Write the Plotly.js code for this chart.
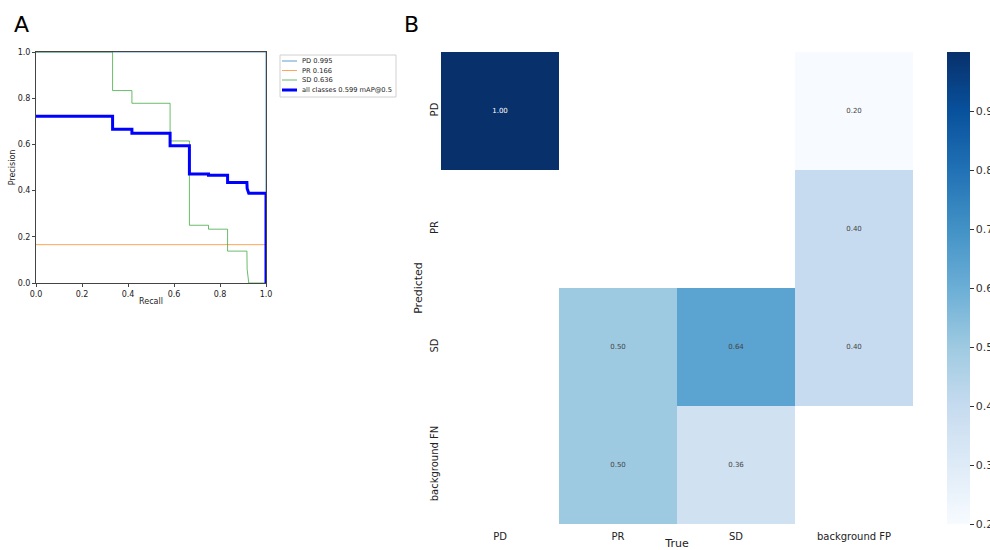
<!DOCTYPE html>
<html>
<head>
<meta charset="utf-8">
<script src="https://cdn.plot.ly/plotly-3.0.1.min.js"></script>
<style>html,body{margin:0;padding:0;background:#fff;}#chart{width:990px;height:550px;}</style>
</head>
<body>
<div id="chart"></div>
<script>
// ---- Panel A: precision-recall curves ----
const pdRecall = [0, 1, 1];
const pdPrecision = [1, 1, 0];
const prRecall = [0, 1];
const prPrecision = [0.166, 0.166];
const sdRecall = [0, 0.333, 0.333, 0.417, 0.417, 0.583, 0.583, 0.667, 0.667, 0.75, 0.75, 0.833, 0.833, 0.917, 0.918, 0.925, 1.0];
const sdPrecision = [1, 1, 0.833, 0.833, 0.778, 0.778, 0.615, 0.615, 0.25, 0.25, 0.233, 0.233, 0.138, 0.138, 0.06, 0, 0];
const allRecall = [0, 0.333, 0.333, 0.417, 0.417, 0.583, 0.583, 0.667, 0.667, 0.75, 0.75, 0.833, 0.833, 0.917, 0.918, 0.925, 1.0, 1.0];
const allPrecision = [0.722, 0.722, 0.666, 0.666, 0.648, 0.648, 0.594, 0.594, 0.472, 0.472, 0.466, 0.466, 0.435, 0.435, 0.409, 0.389, 0.389, 0];
const seriesNames = ['PD 0.995', 'PR 0.166', 'SD 0.636', 'all classes 0.599 mAP@0.5'];

// ---- Panel B: confusion matrix ----
const trueLabels = ['PD', 'PR', 'SD', 'background FP'];
const predLabels = ['PD', 'PR', 'SD', 'background FN'];
const matrix = [
  [1.00, null, null, 0.20],
  [null, null, null, 0.40],
  [null, 0.50, 0.64, 0.40],
  [null, 0.50, 0.36, null]
];
const cbTicks = [0.2, 0.3, 0.4, 0.5, 0.6, 0.7, 0.8, 0.9];

const FONT = 'DejaVu Sans';
const W = 990, H = 550;
const px = v => v / W;
const py = v => 1 - v / H;
const blues = [
  [0.0, '#f7fbff'], [0.125, '#deebf7'], [0.25, '#c6dbef'], [0.375, '#9ecae1'],
  [0.5, '#6baed6'], [0.625, '#4292c6'], [0.75, '#2171b5'], [0.875, '#08519c'], [1.0, '#08306b']
];
const lineStyles = [
  {color: '#1f77b4', width: 1, opacity: 0.7},
  {color: '#ff7f0e', width: 1, opacity: 0.7},
  {color: '#2ca02c', width: 1, opacity: 0.7},
  {color: 'blue', width: 3, opacity: 1}
];

const textArr = matrix.map(r => r.map(v => v === null ? '' : v.toFixed(2)));

const curveX = [pdRecall, prRecall, sdRecall, allRecall];
const curveY = [pdPrecision, prPrecision, sdPrecision, allPrecision];
const traces = curveX.map((xs, i) => ({
  x: xs, y: curveY[i], name: seriesNames[i], mode: 'lines',
  line: {color: lineStyles[i].color, width: lineStyles[i].width}, opacity: lineStyles[i].opacity,
  xaxis: 'x', yaxis: 'y', showlegend: false
}));

traces.push({
  type: 'heatmap', x: trueLabels, y: predLabels, z: matrix, text: textArr,
  texttemplate: '%{text}', textfont: {size: 7, family: FONT},
  colorscale: blues, zmin: 0.2, zmax: 1.0, xaxis: 'x2', yaxis: 'y2', showlegend: false,
  hoverongaps: false,
  colorbar: {
    x: px(947), xanchor: 'left', thickness: 23, thicknessmode: 'pixels',
    len: (524 - 52) / H, lenmode: 'fraction', y: py(524), yanchor: 'bottom',
    outlinewidth: 0, tickvals: cbTicks, ticktext: cbTicks.map(v => v.toFixed(1)),
    ticks: 'outside', ticklen: 4, tickcolor: '#333', xpad: 0, ypad: 0,
    tickfont: {size: 11, family: FONT, color: '#333'}
  }
});

const axisA = {
  showline: true, mirror: true, linecolor: '#444', linewidth: 1, showgrid: false, zeroline: false,
  ticks: 'outside', ticklen: 3, tickcolor: '#444', tickfont: {size: 8, family: FONT, color: '#222'},
  range: [0, 1], tickvals: [0, 0.2, 0.4, 0.6, 0.8, 1.0], tickformat: '.1f'
};

// custom compact legend (matplotlib style)
const legendRows = [61, 70.5, 80, 90];
const shapes = [{type: 'rect', xref: 'paper', yref: 'paper', x0: px(280), x1: px(396), y0: py(97), y1: py(55),
  line: {color: '#d0d0d0', width: 1}, fillcolor: '#fff', layer: 'above'}];
const annotations = [
  {text: 'A', x: px(12), y: py(25), xref: 'paper', yref: 'paper', xanchor: 'left', yanchor: 'middle', showarrow: false, font: {size: 22, family: FONT, color: '#000'}},
  {text: 'B', x: px(402), y: py(25), xref: 'paper', yref: 'paper', xanchor: 'left', yanchor: 'middle', showarrow: false, font: {size: 22, family: FONT, color: '#000'}}
];
seriesNames.forEach((name, i) => {
  shapes.push({type: 'line', xref: 'paper', yref: 'paper', x0: px(282), x1: px(297), y0: py(legendRows[i]), y1: py(legendRows[i]),
    line: {color: lineStyles[i].color, width: lineStyles[i].width}, opacity: lineStyles[i].opacity, layer: 'above'});
  annotations.push({text: name, x: px(300), y: py(legendRows[i]), xref: 'paper', yref: 'paper', xanchor: 'left', yanchor: 'middle',
    showarrow: false, font: {size: 6.7, family: FONT, color: '#222'}});
});

const layout = {
  width: W, height: H, margin: {l: 0, r: 0, t: 0, b: 0, autoexpand: false},
  paper_bgcolor: '#fff', plot_bgcolor: '#fff',
  font: {family: FONT, color: '#222'},
  showlegend: false,
  xaxis: Object.assign({}, axisA, {domain: [px(36), px(266)], anchor: 'y', automargin: false,
    title: {text: 'Recall', font: {size: 8, family: FONT}, standoff: 0}}),
  yaxis: Object.assign({}, axisA, {domain: [py(283), py(52)], anchor: 'x', automargin: false,
    title: {text: 'Precision', font: {size: 8, family: FONT}, standoff: 0}}),
  xaxis2: {domain: [px(441), px(913)], anchor: 'y2', showgrid: false, zeroline: false, showline: false, ticks: '',
    automargin: false, ticklabelstandoff: 5,
    tickfont: {size: 10, family: FONT, color: '#222'},
    title: {text: 'True', font: {size: 11, family: FONT}, standoff: 9}},
  yaxis2: {domain: [py(524), py(52)], anchor: 'x2', autorange: 'reversed', showgrid: false, zeroline: false,
    automargin: false, showline: false, ticks: '', tickangle: -90, tickfont: {size: 10, family: FONT, color: '#222'},
    title: {text: 'Predicted', font: {size: 11, family: FONT}, standoff: 4}},
  shapes: shapes,
  annotations: annotations
};

Plotly.newPlot('chart', traces, layout, {displayModeBar: false, staticPlot: true});
</script>
</body>
</html>
